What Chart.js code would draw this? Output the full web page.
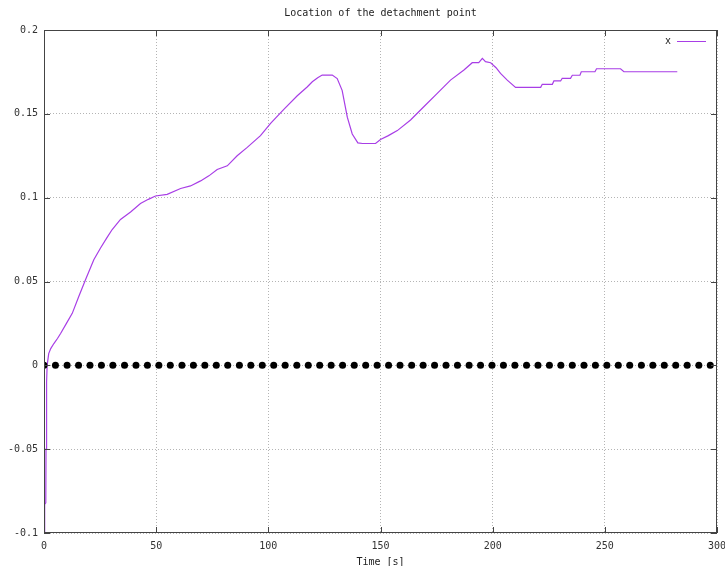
<!DOCTYPE html>
<html>
<head>
<meta charset="utf-8">
<title>Location of the detachment point</title>
<script src="https://cdn.jsdelivr.net/npm/chart.js@4/dist/chart.umd.min.js"></script>
<style>
  html, body { margin: 0; padding: 0; background: #fff; }
  #wrap { width: 725px; height: 566px; }
</style>
</head>
<body>
<div id="wrap"><canvas id="c" width="725" height="566"></canvas></div>
<script>
// Detachment point location over time
const timeS = [0.3, 0.3, 0.8, 0.9, 1.1, 1.2, 1.4, 2.1, 3.0, 4.4, 6.0, 7.4, 10.0, 12.6, 15.5, 18.5,
  22.2, 25.2, 28.0, 30.4, 34.1, 38.6, 43.0, 46.5, 49.7, 54.9, 60.9, 65.3, 69.8, 73.5, 77.2, 81.7,
  86.1, 90.6, 96.5, 101.0, 106.9, 112.9, 117.3, 119.6, 122.0, 124.0, 128.5, 130.7, 132.9, 135.2,
  137.4, 139.9, 142.0, 147.8, 150.0, 153.5, 157.5, 163.4, 169.3, 175.3, 181.2, 187.2, 190.9, 193.8,
  195.4, 196.8, 199.1, 201.5, 203.5, 206.5, 210.2, 221.4, 222.1, 226.6, 227.3, 230.3, 231.0, 234.7,
  235.5, 238.9, 239.5, 245.6, 246.3, 257.0, 258.5, 282.3];
const detachX = [-0.100, -0.083, -0.082, -0.050, -0.048, -0.010, 0.000, 0.007, 0.010, 0.013, 0.016,
  0.019, 0.025, 0.031, 0.041, 0.051, 0.063, 0.070, 0.076, 0.081, 0.087, 0.0915, 0.0965, 0.0990,
  0.101, 0.102, 0.1055, 0.107, 0.110, 0.113, 0.1168, 0.119, 0.125, 0.130, 0.137, 0.1443, 0.1527,
  0.1608, 0.166, 0.1691, 0.1715, 0.1731, 0.1731, 0.171, 0.164, 0.148, 0.138, 0.1327, 0.1323, 0.1323,
  0.1347, 0.1370, 0.140, 0.1463, 0.1542, 0.1622, 0.1701, 0.1761, 0.1805, 0.1805, 0.1831, 0.1811,
  0.1805, 0.1775, 0.1741, 0.1701, 0.1658, 0.1658, 0.1676, 0.1676, 0.1696, 0.1696, 0.1712, 0.1712,
  0.1730, 0.1730, 0.1751, 0.1751, 0.1769, 0.1769, 0.1751, 0.1751];

// Sample instants marked along the zero line
const markerTimes = [0, 5.1, 10.3, 15.4, 20.5, 25.6, 30.7, 35.9, 41.0, 46.1, 51.2, 56.3, 61.5, 66.6,
  71.7, 76.8, 81.9, 87.1, 92.2, 97.3, 102.4, 107.5, 112.7, 117.8, 122.9, 128.0, 133.1, 138.3, 143.4,
  148.5, 153.6, 158.7, 163.9, 169.0, 174.1, 179.2, 184.3, 189.5, 194.6, 199.7, 204.8, 209.9, 215.1,
  220.2, 225.3, 230.4, 235.5, 240.7, 245.8, 250.9, 256.0, 261.1, 266.3, 271.4, 276.5, 281.6, 286.7,
  291.9, 297.0];
const markerLevel = 0;

const xTicks = [0, 50, 100, 150, 200, 250, 300];
const yTicks = [-0.1, -0.05, 0, 0.05, 0.1, 0.15, 0.2];

const chartTitle = 'Location of the detachment point';
const xTitle = 'Time [s]';
const seriesName = 'x';

const FONT = '"DejaVu Sans Mono", "Liberation Mono", monospace';
const LINE_COLOR = '#a83ee6';

const linePoints = timeS.map((t, i) => ({ x: t, y: detachX[i] }));
const markerPoints = markerTimes.map(t => ({ x: t, y: markerLevel }));

const framePlugin = {
  id: 'frame',
  afterDraw(chart) {
    const { ctx, chartArea: a, scales } = chart;
    ctx.save();
    // border box
    ctx.strokeStyle = '#444';
    ctx.lineWidth = 1;
    ctx.strokeRect(Math.round(a.left) + 0.5, Math.round(a.top) + 0.5,
      Math.round(a.right - a.left) - 1, Math.round(a.bottom - a.top) - 1);
    // inward tick marks on all four sides
    const tl = 6;
    ctx.beginPath();
    xTicks.forEach(v => {
      const px = Math.round(scales.x.getPixelForValue(v)) + 0.5;
      ctx.moveTo(px, a.bottom); ctx.lineTo(px, a.bottom - tl);
      ctx.moveTo(px, a.top); ctx.lineTo(px, a.top + tl);
    });
    yTicks.forEach(v => {
      const py = Math.round(scales.y.getPixelForValue(v)) + 0.5;
      ctx.moveTo(a.left, py); ctx.lineTo(a.left + tl, py);
      ctx.moveTo(a.right, py); ctx.lineTo(a.right - tl, py);
    });
    ctx.stroke();

    // titles
    ctx.fillStyle = '#222';
    ctx.font = '10px ' + FONT;
    ctx.textAlign = 'center';
    ctx.textBaseline = 'middle';
    const cx = (a.left + a.right) / 2;
    ctx.fillText(chartTitle, cx, 13);
    ctx.fillText(xTitle, cx, 562);

    // key
    ctx.textAlign = 'right';
    ctx.fillText(seriesName, 671, 41);
    ctx.strokeStyle = LINE_COLOR;
    ctx.beginPath();
    ctx.moveTo(677, 41.5); ctx.lineTo(706, 41.5);
    ctx.stroke();
    ctx.restore();
  }
};

new Chart(document.getElementById('c'), {
  type: 'scatter',
  data: {
    datasets: [
      {
        label: 'markers',
        data: markerPoints,
        showLine: false,
        pointRadius: 3.5,
        pointBorderWidth: 0,
        pointBackgroundColor: '#000',
        pointBorderColor: '#000',
        order: 0
      },
      {
        label: seriesName,
        data: linePoints,
        showLine: true,
        borderColor: LINE_COLOR,
        borderWidth: 1.2,
        pointRadius: 0,
        tension: 0,
        order: 1
      }
    ]
  },
  options: {
    responsive: false,
    animation: false,
    events: [],
    layout: { padding: { top: 30, right: 8, left: 0, bottom: 0 } },
    plugins: { legend: { display: false }, title: { display: false }, tooltip: { enabled: false } },
    scales: {
      x: {
        type: 'linear',
        min: 0, max: 300,
        afterBuildTicks(scale) { scale.ticks = xTicks.map(v => ({ value: v })); },
        afterFit(scale) { scale.height = 33; scale.paddingLeft = 0; scale.paddingRight = 0; },
        ticks: {
          autoSkip: false, maxRotation: 0, padding: 7,
          color: '#333', font: { family: FONT, size: 10 },
          callback: v => String(v)
        },
        grid: { color: '#b4b4b4', lineWidth: 1, drawTicks: false },
        border: { display: false, dash: [1, 2] }
      },
      y: {
        type: 'linear',
        min: -0.1, max: 0.2,
        afterBuildTicks(scale) { scale.ticks = yTicks.map(v => ({ value: v })); },
        afterFit(scale) { scale.width = 44; },
        ticks: {
          autoSkip: false, padding: 6,
          color: '#333', font: { family: FONT, size: 10 },
          callback: v => String(+Number(v).toFixed(2))
        },
        grid: { color: '#b4b4b4', lineWidth: 1, drawTicks: false },
        border: { display: false, dash: [1, 2] }
      }
    }
  },
  plugins: [framePlugin]
});
</script>
</body>
</html>
